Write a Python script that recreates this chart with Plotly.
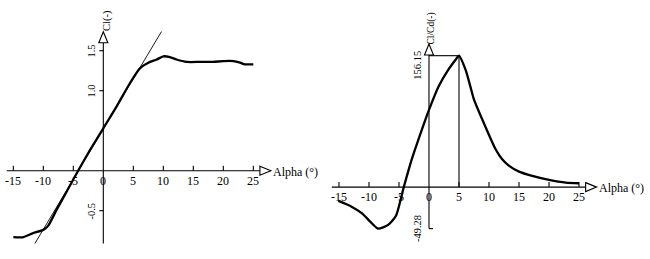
import plotly.graph_objects as go

# ---------------- data ----------------
alpha_cl = [-15, -13.3, -11.7, -10, -9.2, -7.8, -6.1, -4.2, -2.2, 0, 2.2, 4.4, 6.1, 7.5,
            8.9, 10, 11.1, 12.2, 13.9, 16.1, 18.3, 20, 21.7, 22.8, 23.6, 25]
cl = [-0.83, -0.83, -0.78, -0.74, -0.69, -0.49, -0.26, 0, 0.26, 0.53, 0.8, 1.09, 1.28, 1.35,
      1.39, 1.43, 1.42, 1.39, 1.36, 1.36, 1.36, 1.37, 1.37, 1.35, 1.33, 1.33]

tangent_alpha = [-11.4, 9.7]
tangent_cl = [-0.91, 1.74]

alpha_clcd = [-15.1, -12.9, -11.2, -9.8, -8.5, -6.8, -5.5, -4.2, -2.9, -1.2, 0, 1.6, 3.2, 4.4, 5,
              6.1, 6.9, 7.5, 8.9, 10.0, 11.1, 12.2, 13.3, 15, 17.2, 20, 22.8, 25]
clcd = [-16.4, -23.2, -31, -41, -49.28, -44.9, -34, 0, 32.3, 67.9, 91.7, 119.4, 139.2, 151, 156.15,
        139.2, 119.4, 104, 80, 62, 45, 33, 25.5, 18.4, 13.3, 8.6, 5.4, 4.6]

x_ticks = [-15, -10, -5, 0, 5, 10, 15, 20, 25]
x_tick_labels = ["-15", "-10", "-5", "0", "5", "10", "15", "20", "25"]
cl_ticks = [1.5, 1.0, -0.5]
cl_tick_labels = ["1.5", "1.0", "-0.5"]
clcd_max, clcd_min = 156.15, -49.28
alpha_at_max = 5
clcd_tick_labels = ["156.15", "-49.28"]

# ---------------- figure ----------------
FONT = dict(family="Liberation Serif", size=12, color="black")
RFONT = dict(family="Liberation Serif", size=10.5, color="black")
fig = go.Figure()

fig.add_trace(go.Scatter(x=alpha_cl, y=cl, mode="lines", xaxis="x", yaxis="y",
                         line=dict(color="black", width=2.3, shape="spline", smoothing=0.6)))
fig.add_trace(go.Scatter(x=tangent_alpha, y=tangent_cl, mode="lines", xaxis="x", yaxis="y",
                         line=dict(color="black", width=0.9)))
fig.add_trace(go.Scatter(x=alpha_clcd, y=clcd, mode="lines", xaxis="x2", yaxis="y2",
                         line=dict(color="black", width=2.3, shape="spline", smoothing=0.6)))

shapes = []
ann = []
LW = 1.1

def axes(xr, yr, x_left, x_right, y_bot, y_top, x_tick_list):
    shapes.append(dict(type="line", xref=xr, yref=yr, x0=x_left, x1=x_right, y0=0, y1=0,
                       line=dict(color="black", width=LW)))
    shapes.append(dict(type="line", xref=xr, yref=yr, x0=0, x1=0, y0=y_bot, y1=y_top,
                       line=dict(color="black", width=LW)))
    shapes.append(dict(type="path", xref=xr, yref=yr, xsizemode="pixel", ysizemode="pixel",
                       xanchor=x_right, yanchor=0, path="M 0,4.5 L 11,0 L 0,-4.5 Z",
                       line=dict(color="black", width=LW), fillcolor="white"))
    shapes.append(dict(type="path", xref=xr, yref=yr, xsizemode="pixel", ysizemode="pixel",
                       xanchor=0, yanchor=y_top, path="M -4.5,0 L 4.5,0 L 0,11 Z",
                       line=dict(color="black", width=LW), fillcolor="white"))
    for t in x_tick_list:
        if t == 0:
            continue
        shapes.append(dict(type="line", xref=xr, yref=yr, ysizemode="pixel", yanchor=0,
                           x0=t, x1=t, y0=0, y1=5, line=dict(color="black", width=LW)))

axes("x", "y", -16.1, 26.1, -0.91, 1.60, x_ticks)
axes("x2", "y2", -16.2, 26.1, clcd_min, 157, x_ticks)

for t in cl_ticks:
    shapes.append(dict(type="line", xref="x", yref="y", xsizemode="pixel", xanchor=0,
                       x0=-4, x1=0, y0=t, y1=t, line=dict(color="black", width=LW)))
shapes.append(dict(type="line", xref="x2", yref="y2", x0=0, x1=alpha_at_max,
                   y0=clcd_max, y1=clcd_max, line=dict(color="black", width=LW)))
shapes.append(dict(type="line", xref="x2", yref="y2", x0=alpha_at_max, x1=alpha_at_max,
                   y0=0, y1=clcd_max, line=dict(color="black", width=LW)))
shapes.append(dict(type="line", xref="x2", yref="y2", xsizemode="pixel", xanchor=0,
                   x0=0, x1=4, y0=clcd_min, y1=clcd_min, line=dict(color="black", width=LW)))

for xr, yr in (("x", "y"), ("x2", "y2")):
    for t, lab in zip(x_ticks, x_tick_labels):
        ann.append(dict(x=t, y=0, xref=xr, yref=yr, text=lab, showarrow=False,
                        yanchor="top", yshift=-1, font=FONT))
    ann.append(dict(x=28.0, y=0, xref=xr, yref=yr, text="Alpha (°)", showarrow=False,
                    xanchor="left", yanchor="middle", yshift=-1, font=FONT))

for t, lab in zip(cl_ticks, cl_tick_labels):
    ann.append(dict(x=0, y=t, xref="x", yref="y", text=lab, showarrow=False, textangle=-90,
                    xanchor="right", xshift=-4, font=RFONT))
ann.append(dict(x=0, y=1.72, xref="x", yref="y", text="Cl(-)", showarrow=False, textangle=-90,
                xanchor="center", yanchor="bottom", xshift=3, yshift=0,
                font=dict(family="Liberation Serif", size=10.5, color="black")))

ann.append(dict(x=0, y=clcd_max, xref="x2", yref="y2", text=clcd_tick_labels[0], showarrow=False,
                textangle=-90, xanchor="right", yanchor="top", xshift=-4, yshift=7, font=RFONT))
ann.append(dict(x=0, y=clcd_min, xref="x2", yref="y2", text=clcd_tick_labels[1], showarrow=False,
                textangle=-90, xanchor="right", yanchor="middle", xshift=-4, font=RFONT))
ann.append(dict(x=0, y=167, xref="x2", yref="y2", text="Cl/Cd(-)", showarrow=False, textangle=-90,
                xanchor="center", yanchor="bottom", xshift=3, yshift=0,
                font=dict(family="Liberation Serif", size=9.5, color="black")))

ax_common = dict(visible=False, fixedrange=True)
fig.update_layout(
    width=650, height=259, margin=dict(l=0, r=0, t=0, b=0),
    paper_bgcolor="white", plot_bgcolor="white", showlegend=False,
    xaxis=dict(domain=[0, 0.5], range=[-17.22, 36.95], anchor="y", **ax_common),
    yaxis=dict(domain=[0, 1], range=[-1.104, 2.134], anchor="x", **ax_common),
    xaxis2=dict(domain=[0.5, 1], range=[-17.33, 36.83], anchor="y2", **ax_common),
    yaxis2=dict(domain=[0, 1], range=[-85.4, 222.3], anchor="x2", **ax_common),
    shapes=shapes, annotations=ann,
)

fig.write_html("out.html", config={"displayModeBar": False},
               post_script="document.body.style.margin='0';")
